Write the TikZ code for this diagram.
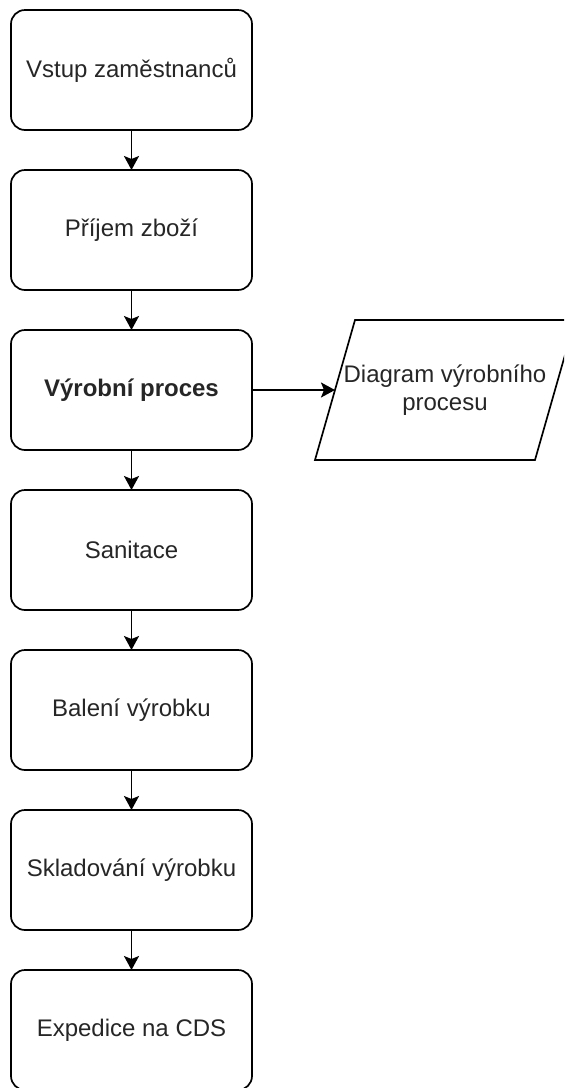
\documentclass[tikz,border=0pt]{standalone}
\usepackage{fontspec}
\setmainfont{Liberation Sans}
\usetikzlibrary{arrows.meta,positioning,calc}

\begin{document}
\begin{tikzpicture}[
  x=0.5pt, y=-0.5pt,
  font=\fontsize{12}{14}\selectfont,
  node distance=20pt,
  box/.style={
    draw,
    rounded corners=7pt,
    align=center,
    outer sep=0pt,
    minimum width=120.5pt,
    minimum height=60pt,
    line width=0.85pt,
    text=black!85,
  },
  datain/.style={
    align=center,
    outer sep=0pt,
    minimum width=110pt,
    minimum height=70pt,
    text=black!85,
  },
  arr/.style={
    -{Stealth[length=7pt,width=7.5pt,inset=1.5pt]},
    line width=0.85pt,
  },
]
  % Canvas of the reference (the parallelogram runs off the right edge)
  \useasboundingbox (0,0) rectangle (564,1088);
  \clip (0,0) rectangle (564,1088);
  % Main column, one box under the other
  \node[box] (vstup) at (131.5,70) {Vstup zaměstnanců};
  \node[box, below=of vstup] (prijem) {Příjem zboží};
  \node[box, below=of prijem] (vyroba) {\textbf{Výrobní proces}};
  \node[box, below=of vyroba] (sanit) {Sanitace};
  \node[box, below=of sanit] (baleni) {Balení výrobku};
  \node[box, below=of baleni] (sklad) {Skladování výrobku};
  \node[box, below=of sklad] (exped) {Expedice na CDS};
  % Side output: parallelogram round the text node
  \node[datain] (diag) at (445,390) {Diagram výrobního\\procesu};
  \draw[line width=0.85pt] ($(diag.south west)+(-20,0)$) -- ($(diag.north west)+(20,0)$)
    -- ($(diag.north east)+(20,0)$) -- ($(diag.south east)+(-20,0)$) -- cycle;
  \foreach \a/\b in {vstup/prijem,prijem/vyroba,vyroba/sanit,sanit/baleni,baleni/sklad,sklad/exped}
    {\draw[arr] (\a) -- (\b);}
  \draw[arr] (vyroba) -- (diag);
\end{tikzpicture}
\end{document}
